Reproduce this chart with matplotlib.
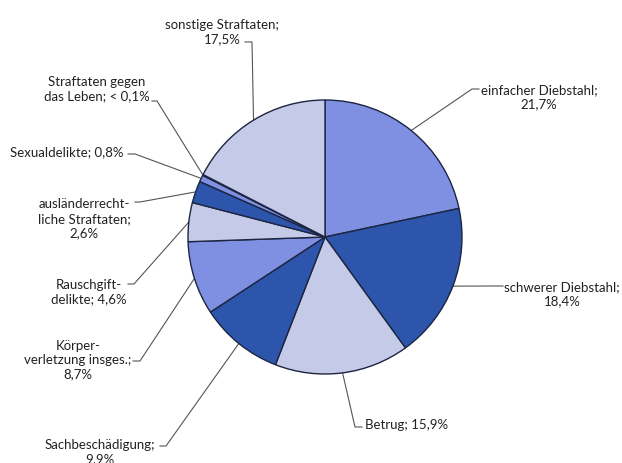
import numpy as np
import matplotlib
matplotlib.use("Agg")
import matplotlib.pyplot as plt

plt.rcParams['font.family'] = ['Lato', 'DejaVu Sans']

# Anteile der Straftatengruppen (in %), im Uhrzeigersinn ab 12 Uhr
categories = ["einfacher Diebstahl", "schwerer Diebstahl", "Betrug", "Sachbeschädigung",
              "Körperverletzung insges.", "Rauschgiftdelikte", "ausländerrechtliche Straftaten",
              "Sexualdelikte", "Straftaten gegen das Leben", "sonstige Straftaten"]
shares = [21.7, 18.4, 15.9, 9.9, 8.7, 4.6, 2.6, 0.8, 0.1, 17.5]
labels = ["einfacher Diebstahl;\n21,7%",
          "schwerer Diebstahl;\n18,4%",
          "Betrug; 15,9%",
          "Sachbeschädigung;\n9,9%",
          "Körper-\nverletzung insges.;\n8,7%",
          "Rauschgift-\ndelikte; 4,6%",
          "ausländerrecht-\nliche Straftaten;\n2,6%",
          "Sexualdelikte; 0,8%",
          "Straftaten gegen\ndas Leben; < 0,1%",
          "sonstige Straftaten;\n17,5%"]

MED, DARK, LIGHT = "#7f8fe2", "#2c55ab", "#c6cae9"
colors = [MED, DARK, LIGHT, DARK, MED, LIGHT, DARK, MED, LIGHT, LIGHT]

# Layout in Pixeln: Textposition, Ausrichtung, Knick der Linie, Ende des Strichs
W, H = 622, 464
CX, CY, R = 325, 238, 137
layout = [
    ((539, 97), "center", (472, 90), (479, 90)),
    ((562, 294), "center", (495, 287), (503, 287)),
    ((365, 425), "left", (355, 428), (362, 428)),
    ((100, 452), "center", (166, 447), (160, 447)),
    ((78, 360), "center", (140, 362), (133, 362)),
    ((89, 292), "center", (134, 285), (128, 285)),
    ((84, 219), "center", (140, 203), (135, 203)),
    ((67, 152), "center", (135, 155), (128, 155)),
    ((97, 89), "center", (157, 102), (152, 102)),
    ((222, 32), "center", (252, 43), (245, 43)),
]


def px(x, y):
    return (x - CX) / R, (CY - y) / R


fig = plt.figure(figsize=(W / 100, H / 100), dpi=100)
ax = fig.add_axes([0, 0, 1, 1])

wedges, _ = ax.pie(shares, colors=colors, startangle=90, counterclock=False, radius=1,
                   wedgeprops=dict(edgecolor="#1c2541", linewidth=1.0))

for w, lab, (tpos, ha, knee, tick) in zip(wedges, labels, layout):
    ang = np.deg2rad((w.theta1 + w.theta2) / 2)
    x0, y0 = np.cos(ang), np.sin(ang)
    kx, ky = px(*knee)
    ex, ey = px(*tick)
    ax.plot([x0, kx, ex], [y0, ky, ey], color="#555555", lw=0.8, zorder=0)
    tx, ty = px(*tpos)
    ax.text(tx, ty, lab, ha=ha, va="center", fontsize=9.5, color="#222222",
            linespacing=1.25, multialignment="center")

ax.set_xlim(-CX / R, (W - CX) / R)
ax.set_ylim((CY - H) / R, CY / R)
ax.set_aspect("auto")
ax.axis("off")

fig.savefig("out.png", dpi=100, facecolor="white")
